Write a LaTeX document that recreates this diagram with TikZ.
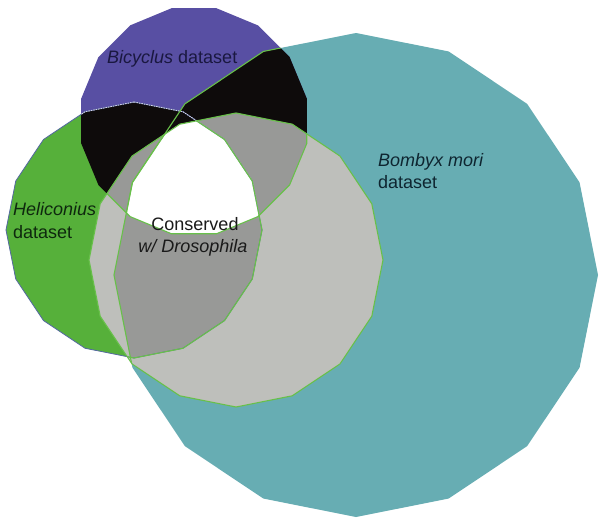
\documentclass[tikz,border=0pt]{standalone}
\usepackage{fontspec}
\setmainfont{Liberation Sans}
\definecolor{bpurple}{RGB}{88,79,163}
\definecolor{hgreen}{RGB}{86,176,58}
\definecolor{mteal}{RGB}{103,173,179}
\definecolor{rblack}{RGB}{14,11,11}
\definecolor{lgray}{RGB}{190,191,187}
\definecolor{dgray}{RGB}{152,153,151}
\definecolor{glinec}{RGB}{104,192,74}
\definecolor{hedgec}{RGB}{84,104,160}
\definecolor{bicytext}{RGB}{26,24,64}
\definecolor{helitext}{RGB}{14,40,14}
\definecolor{bombtext}{RGB}{14,37,48}
\definecolor{constext}{RGB}{26,26,26}
\newcommand\pathB{plot[samples=17,domain=11.25:371.25] ({194+115*sin(\x)},{121-115*cos(\x)}) -- cycle}
\newcommand\pathH{plot[samples=17,domain=0:360] ({134+128*sin(\x)},{230-128*cos(\x)}) -- cycle}
\newcommand\pathM{plot[samples=17,domain=0:360] ({356+242*sin(\x)},{275-242*cos(\x)}) -- cycle}
\newcommand\pathD{plot[samples=17,domain=0:360] ({236+147*sin(\x)},{260-147*cos(\x)}) -- cycle}
\tikzset{
  innerline/.style={draw=glinec, line width=1.1pt, line join=round},
  heliedge/.style={draw=hedgec, line width=0.8pt, line join=round},
  helidash/.style={draw=white!75!bpurple, line width=0.9pt, dash pattern=on 1.5pt off 1pt},
  lbl/.style={anchor=base west, inner sep=0pt, font=\fontsize{18}{21}\selectfont},
  clbl/.style={anchor=base, inner sep=0pt, font=\fontsize{18}{21}\selectfont, text=constext}
}
\begin{document}
\begin{tikzpicture}[x=1pt,y=-1pt]
\fill[white] (0,0) rectangle (599,522);
\useasboundingbox (0,0) rectangle (599,522);
% base sets
\fill[mteal] \pathM;
\fill[bpurple] \pathB;
\fill[hgreen] \pathH;
% pairwise overlaps
\begin{scope}
  \clip \pathB;
  \fill[rblack] \pathH;
  \fill[rblack] \pathM;
\end{scope}
\begin{scope}
  \clip \pathH;
  \fill[rblack] \pathM;
\end{scope}
% conserved with Drosophila
\fill[lgray] \pathD;
\begin{scope}
  \clip \pathD;
  \clip \pathB;
  \fill[dgray] \pathH;
  \fill[dgray] \pathM;
\end{scope}
\begin{scope}
  \clip \pathD;
  \clip \pathH;
  \fill[dgray] \pathM;
\end{scope}
\begin{scope}
  \clip \pathD;
  \clip \pathB;
  \clip \pathH;
  \fill[white] \pathM;
\end{scope}
% outlines
\draw[heliedge] \pathH;
\begin{scope}
  \clip \pathB;
  \draw[helidash] \pathH;
  \draw[innerline] \pathM;
\end{scope}
\begin{scope}
  \clip \pathD;
  \draw[innerline] \pathB;
  \draw[innerline] \pathH;
  \draw[innerline] \pathM;
\end{scope}
\draw[innerline] \pathD;
% labels
\node[lbl, text=bicytext] (bicy) at (107,63) {\textit{Bicyclus} dataset};
\node[lbl, text=helitext] (heli1) at (13,215) {\textit{Heliconius}};
\node[lbl, text=helitext] (heli2) at (13,238) {dataset};
\node[lbl, text=bombtext] (bomb1) at (378,166) {\textit{Bombyx mori}};
\node[lbl, text=bombtext] (bomb2) at (378,188) {dataset};
\node[clbl] (cons1) at (195,230) {Conserved};
\node[clbl] (cons2) at (193,252) {\textit{w/ Drosophila}};
\end{tikzpicture}
\end{document}
